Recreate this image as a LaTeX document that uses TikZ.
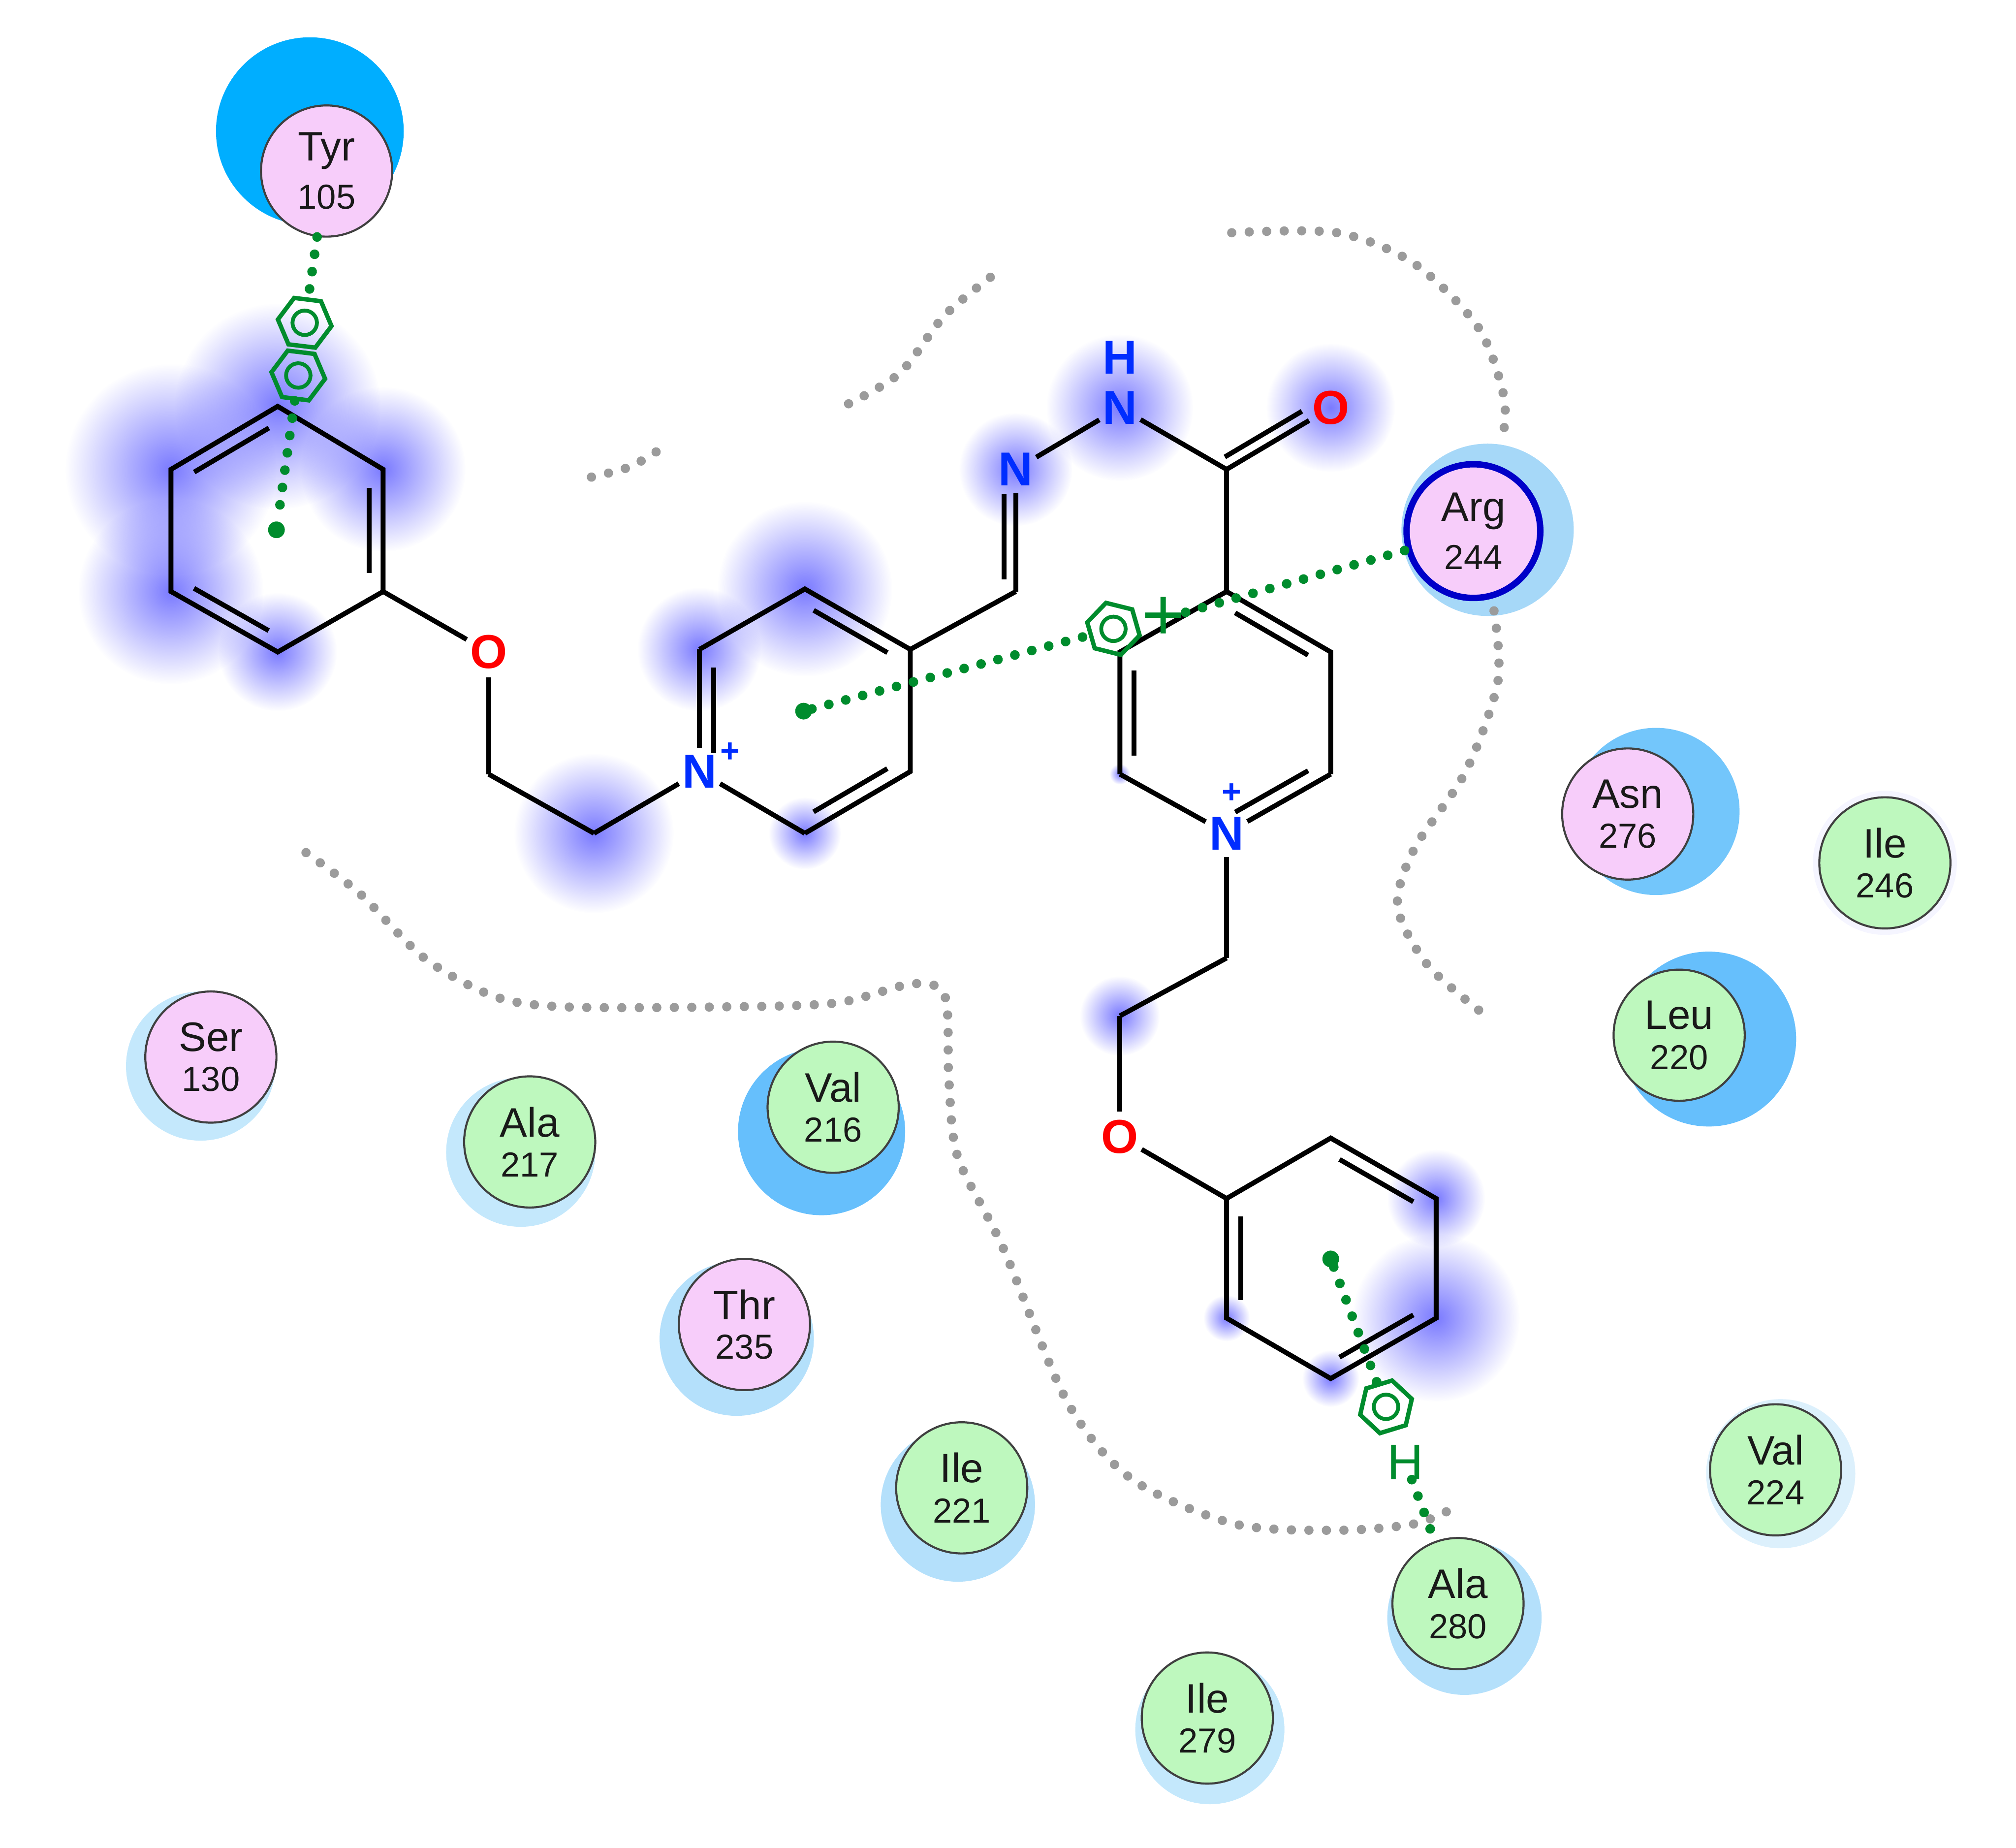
\documentclass[tikz,border=0pt]{standalone}
\usepackage{fontspec}
\setmainfont{Liberation Sans}
\usetikzlibrary{calc,fadings,shapes.geometric}
\definecolor{grn}{RGB}{0,140,45}
\definecolor{resp}{RGB}{247,205,250}
\definecolor{resg}{RGB}{190,248,190}
\definecolor{blobc}{RGB}{85,85,255}
\definecolor{atomn}{RGB}{0,45,255}
\definecolor{grayd}{RGB}{155,155,155}
\definecolor{argb}{RGB}{0,0,200}
\definecolor{hTyr}{RGB}{0,174,255}
\definecolor{hArg}{RGB}{166,216,248}
\definecolor{hAsn}{RGB}{115,198,251}
\definecolor{hStrong}{RGB}{102,191,252}
\definecolor{hMid}{RGB}{180,224,251}
\definecolor{hLight}{RGB}{196,232,252}
\definecolor{hPale}{RGB}{220,240,252}
\definecolor{hFaint}{RGB}{245,245,255}
\tikzfading[name=blobfade, inner color=transparent!22, outer color=transparent!100]
\tikzset{
  bondl/.style={line width=3.8pt,black,line join=miter},
  resn/.style={circle,draw=black!75,line width=1.6pt,minimum size=102pt,inner sep=0pt,align=center,text=black!90},
  pinkres/.style={resn,fill=resp},
  greenres/.style={resn,fill=resg},
  atomlabel/.style={circle,inner sep=0pt,minimum size=33pt,font=\fontsize{37}{37}\selectfont\bfseries},
  chargelabel/.style={inner sep=0pt,text=atomn,font=\fontsize{26}{26}\selectfont\bfseries},
  hbdots/.style={line width=7.5pt,grn,line cap=round,dash pattern=on 0.01pt off 13.6pt},
  pockdots/.style={line width=7.2pt,grayd,line cap=round,dash pattern=on 0.01pt off 13.6pt},
  hexicon/.style={regular polygon,regular polygon sides=6,draw=grn,line width=3.4pt,minimum size=42pt,inner sep=0pt},
  hexring/.style={draw=grn,line width=3pt},
  enddot/.style={circle,fill=grn,minimum size=13pt,inner sep=0pt},
  grnlabel/.style={inner sep=2pt,text=grn}
}
\newcommand{\halo}[4]{\fill[#4] (#1,#2) circle[radius=#3pt];}
\newcommand{\blob}[3]{\fill[blobc,path fading=blobfade] (#1,#2) circle[radius=#3pt];}
\newcommand{\dbl}[3]{\draw[bondl] ($(#1)!.15!(#2)!11pt!#3:(#2)$) -- ($(#1)!.85!(#2)!11pt!#3:(#2)$);}
\newcommand{\rs}[2]{\fontsize{32}{36}\selectfont #1\\[11pt]\fontsize{27}{36}\selectfont #2}
\begin{document}
\begin{tikzpicture}[x=1pt,y=-1pt]
\useasboundingbox (0,0) rectangle (1568,1437);
\fill[white] (0,0) rectangle (1568,1437);
% halos
\halo{241}{102}{73}{hTyr}
\halo{1157}{412}{67}{hArg}
\halo{1288}{631}{65}{hAsn}
\halo{1329}{808}{68}{hStrong}
\halo{639}{880}{65}{hStrong}
\halo{405}{896}{58}{hLight}
\halo{156}{829}{58}{hLight}
\halo{573}{1041}{60}{hMid}
\halo{745}{1170}{60}{hMid}
\halo{941}{1345}{58}{hLight}
\halo{1139}{1258}{60}{hMid}
\halo{1385}{1146}{58}{hPale}
\halo{1466}{671}{56}{hFaint}
% ligand-exposure blobs
\blob{216}{316}{80}
\blob{133}{365}{82}
\blob{298}{365}{64}
\blob{133}{460}{72}
\blob{216}{507}{46}
\blob{462}{648}{62}
\blob{626}{458}{68}
\blob{544}{505}{48}
\blob{626}{648}{28}
\blob{790}{365}{44}
\blob{871}{317}{57}
\blob{1035}{317}{50}
\blob{871}{790}{31}
\blob{1117}{932}{38}
\blob{1117}{1025}{65}
\blob{954}{1025}{18}
\blob{1035}{1072}{22}
\blob{871}{602}{8}
% pocket contours
\draw[pockdots] plot[smooth] coordinates {(958,181) (1040,181) (1100,205) (1150,255) (1170,310) (1168,345)};
\draw[pockdots] plot[smooth] coordinates {(1162,475) (1165,530) (1140,600) (1100,660) (1087,705) (1110,750) (1152,787)};
\draw[pockdots] plot[smooth] coordinates {(460,371) (490,363) (514,349)};
\draw[pockdots] plot[smooth] coordinates {(660,314) (700,290) (735,245) (775,212)};
\draw[pockdots] plot[smooth] coordinates {(238,663) (280,695) (330,745) (385,775) (440,783) (560,783) (650,780) (710,765) (735,775) (738,840) (745,900) (780,970) (830,1090) (880,1150) (960,1185) (1040,1190) (1100,1185) (1132,1172)};
% atoms
\coordinate (a1) at (216,316);
\coordinate (a2) at (298,365);
\coordinate (a3) at (298,460);
\coordinate (a4) at (216,507);
\coordinate (a5) at (133,460);
\coordinate (a6) at (133,365);
\node[atomlabel,text=red] (o1) at (380,507) {O};
\coordinate (l1) at (380,602);
\coordinate (l2) at (462,648);
\node[atomlabel,text=atomn] (n1) at (544,600) {N};
\coordinate (b2) at (544,505);
\coordinate (b3) at (626,458);
\coordinate (b4) at (708,505);
\coordinate (b5) at (708,600);
\coordinate (b6) at (626,648);
\coordinate (h1) at (790,460);
\node[atomlabel,text=atomn] (n2) at (790,365) {N};
\node[atomlabel,text=atomn] (n3) at (871,317) {N};
\node[atomlabel,text=atomn,minimum size=20pt] (h2) at (871,278) {H};
\coordinate (co) at (954,365);
\node[atomlabel,text=red] (o2) at (1035,317) {O};
\coordinate (c1) at (954,460);
\coordinate (c2) at (1035,507);
\coordinate (c3) at (1035,602);
\node[atomlabel,text=atomn] (n4) at (954,648) {N};
\coordinate (c5) at (871,602);
\coordinate (c6) at (871,507);
\coordinate (m1) at (954,745);
\coordinate (m2) at (871,790);
\node[atomlabel,text=red] (o3) at (871,884) {O};
\coordinate (d1) at (954,932);
\coordinate (d2) at (1035,885);
\coordinate (d3) at (1117,932);
\coordinate (d4) at (1117,1025);
\coordinate (d5) at (1035,1072);
\coordinate (d6) at (954,1025);
\node[chargelabel] (q1) at (568,585) {+};
\node[chargelabel] (q2) at (958,617) {+};
% bonds
\draw[bondl] (a1)--(a2)--(a3)--(a4)--(a5)--(a6)--cycle;
\dbl{a6}{a1}{-90}\dbl{a2}{a3}{-90}\dbl{a4}{a5}{-90}
\draw[bondl] (a3)--(o1);
\draw[bondl] (o1)--(l1);
\draw[bondl] (l1)--(l2);
\draw[bondl] (l2)--(n1);
\draw[bondl] (n1)--(b2);
\draw[bondl] (b2)--(b3)--(b4)--(b5)--(b6);
\draw[bondl] (b6)--(n1);
\dbl{n1}{b2}{-90}\dbl{b3}{b4}{-90}\dbl{b5}{b6}{-90}
\draw[bondl] (b4)--(h1);
\draw[bondl] (h1)--(n2);
\draw[bondl] ($(h1)!.1!(n2)!9pt!90:(n2)$) -- ($(h1)!.8!(n2)!9pt!90:(n2)$);
\draw[bondl] (n2)--(n3);
\draw[bondl] (n3)--(co);
\draw[bondl] (co)--(o2);
\draw[bondl] ($(co)!.04!(o2)!9pt!90:(o2)$) -- ($(co)!.78!(o2)!9pt!90:(o2)$);
\draw[bondl] (co)--(c1);
\draw[bondl] (c1)--(c2)--(c3);
\draw[bondl] (c3)--(n4);
\draw[bondl] (n4)--(c5);
\draw[bondl] (c5)--(c6)--(c1);
\dbl{c1}{c2}{-90}\dbl{c3}{n4}{-90}\dbl{c5}{c6}{-90}
\draw[bondl] (n4)--(m1);
\draw[bondl] (m1)--(m2);
\draw[bondl] (m2)--(o3);
\draw[bondl] (o3)--(d1);
\draw[bondl] (d1)--(d2)--(d3)--(d4)--(d5)--(d6)--cycle;
\dbl{d2}{d3}{-90}\dbl{d4}{d5}{-90}\dbl{d6}{d1}{-90}
% residues
\node[pinkres] (tyr) at (254,133) {\rs{Tyr}{105}};
\node[pinkres] (ser) at (164,822) {\rs{Ser}{130}};
\node[greenres] (ala217) at (412,888) {\rs{Ala}{217}};
\node[greenres] (val216) at (648,861) {\rs{Val}{216}};
\node[pinkres] (thr) at (579,1030) {\rs{Thr}{235}};
\node[greenres] (ile221) at (748,1157) {\rs{Ile}{221}};
\node[greenres] (ile279) at (939,1336) {\rs{Ile}{279}};
\node[greenres] (ala280) at (1134,1247) {\rs{Ala}{280}};
\node[greenres] (val224) at (1381,1143) {\rs{Val}{224}};
\node[greenres] (leu) at (1306,805) {\rs{Leu}{220}};
\node[pinkres] (asn) at (1266,633) {\rs{Asn}{276}};
\node[greenres] (ile246) at (1466,671) {\rs{Ile}{246}};
\node[pinkres,draw=argb,line width=5pt,minimum size=104pt] (arg) at (1146,413) {\rs{Arg}{244}};
% interaction symbols
\node[hexicon,shape border rotate=-7] (hx1) at (237,251) {};
\draw[hexring] (hx1.center) circle[radius=9.5pt];
\node[hexicon,shape border rotate=-7] (hx2) at (232,292) {};
\draw[hexring] (hx2.center) circle[radius=9.5pt];
\node[hexicon,shape border rotate=-14] (hx3) at (866,489) {};
\draw[hexring] (hx3.center) circle[radius=9.5pt];
\node[hexicon,shape border rotate=17] (hx4) at (1078,1094) {};
\draw[hexring] (hx4.center) circle[radius=9.5pt];
\node[grnlabel,inner sep=0pt,font=\fontsize{58}{58}\selectfont] (pl) at (905,481) {+};
\node[grnlabel,inner sep=0pt,font=\fontsize{39}{39}\selectfont] (hl) at (1093,1137) {H};
\node[enddot] (e1) at (215,412) {};
\node[enddot] (e2) at (625,553) {};
\node[enddot] (e3) at (1035,979) {};
\draw[hbdots] (tyr)--(hx1);
\draw[hbdots] (hx2)--(e1);
\draw[hbdots] (e2)--(hx3);
\draw[hbdots] (pl)--(arg);
\draw[hbdots] (e3)--(hx4);
\draw[hbdots] (hl)--(ala280);
\end{tikzpicture}
\end{document}
